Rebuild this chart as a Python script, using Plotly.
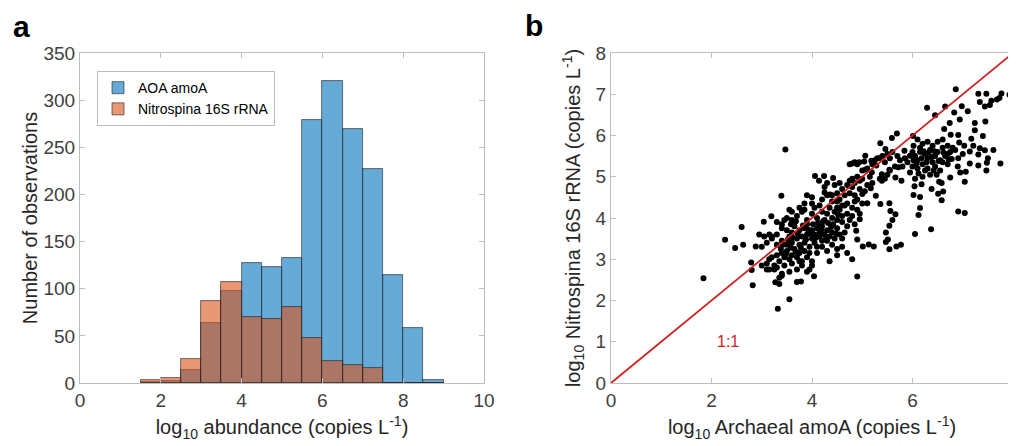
import plotly.graph_objects as go

# --- histogram (panel a) ---
bin_centres = [1.75, 2.25, 2.75, 3.25, 3.75, 4.25, 4.75, 5.25, 5.75, 6.25, 6.75, 7.25, 7.75, 8.25, 8.75]
aoa_counts = [1, 2, 14, 64, 98, 127, 123, 133, 279, 320, 269, 227, 115, 58, 3]
nitrospina_counts = [3, 5, 25, 87, 107, 70, 68, 81, 48, 23, 19, 16, 0, 0, 0]

# --- scatter (panel b): (log10 archaeal amoA, log10 Nitrospina 16S) ---
points = [
    (1.84, 2.54), (2.27, 3.47), (2.47, 3.27), (2.60, 3.78), (2.63, 3.35), (2.79, 2.92), (2.82, 2.37),
    (2.80, 2.74), (2.88, 3.31), (3.04, 3.91), (3.19, 4.04), (3.39, 4.54), (3.47, 5.66), (3.32, 1.80),
    (3.55, 2.03), (3.27, 2.44), (3.78, 2.46), (4.04, 2.59), (4.90, 2.58), (4.06, 5.02), (4.14, 4.90),
    (4.24, 5.02), (4.42, 4.97), (4.36, 4.57), (4.25, 4.62),
    (6.86, 7.12), (7.77, 7.02), (6.29, 6.67), (6.45, 6.49), (6.65, 6.70), (6.83, 6.56), (6.98, 6.71),
    (7.10, 6.59), (7.31, 7.01), (7.34, 6.81), (7.47, 7.01), (7.44, 6.70), (7.57, 6.84), (7.68, 6.87),
    (7.54, 6.74), (7.73, 6.91), (7.93, 6.99), (7.45, 6.34), (7.24, 6.30), (6.94, 6.39), (6.74, 6.30),
    (6.63, 6.16), (6.76, 6.02), (6.91, 6.01), (7.24, 6.13), (7.40, 5.99), (7.17, 5.92), (6.93, 5.83),
    (7.03, 5.75), (7.21, 5.75), (7.34, 5.69), (7.14, 5.61), (7.31, 5.54), (7.44, 5.64), (7.61, 5.65),
    (7.50, 5.45), (7.48, 5.34), (7.75, 5.32), (7.47, 5.15), (7.31, 5.27), (7.14, 5.32), (7.06, 5.12),
    (7.04, 4.88), (6.91, 5.45), (7.00, 5.55), (6.78, 5.43), (6.75, 4.98), (6.91, 4.16), (7.04, 4.12),
    (6.37, 3.73), (6.05, 3.61), (6.12, 4.07), (6.15, 4.24), (6.15, 4.51), (6.02, 4.56), (6.04, 4.77),
    (6.18, 4.82), (6.38, 4.70), (6.53, 4.88), (6.51, 4.59), (6.58, 4.43), (6.61, 4.64),
    (5.69, 6.05), (5.59, 5.94), (5.36, 5.81), (5.46, 5.67), (5.34, 5.45), (5.18, 5.39), (5.04, 5.37),
    (4.94, 5.35), (4.80, 5.32), (5.06, 5.17), (5.19, 5.11), (5.39, 5.06), (5.54, 5.17), (5.72, 5.23),
    (5.66, 4.98), (5.78, 4.90), (5.39, 4.90), (5.27, 4.54), (5.36, 4.34), (5.54, 4.36), (5.56, 4.17),
    (5.66, 4.09), (5.60, 3.95), (5.54, 3.81), (5.47, 3.65), (5.51, 3.48), (5.47, 3.42), (5.54, 3.24),
    (5.68, 3.31), (5.77, 3.35), (5.13, 3.36), (5.23, 3.31), (5.01, 3.31), (4.90, 3.48), (4.88, 3.69),
    (4.95, 3.97), (5.10, 4.36), (5.00, 4.58), (5.17, 4.72), (5.28, 5.27), (5.06, 5.51), (5.84, 5.63),
    (5.95, 5.51), (6.02, 5.75), (6.01, 5.99),
    (6.05, 5.50), (6.10, 5.40), (6.15, 5.60), (6.20, 5.30), (6.25, 5.55), (6.30, 5.45), (6.30, 5.20),
    (6.35, 5.65), (6.40, 5.35), (6.45, 5.50), (6.50, 5.60), (6.55, 5.40), (6.60, 5.70), (6.65, 5.50),
    (6.70, 5.30), (6.75, 5.60), (6.80, 5.70), (6.10, 5.20), (6.20, 5.00), (6.00, 5.25), (5.95, 5.10),
    (6.05, 4.95), (6.15, 5.70), (6.25, 5.15), (6.35, 5.05), (6.45, 5.25), (6.55, 5.15), (6.60, 5.35),
    (6.70, 5.55), (6.85, 5.65), (6.40, 5.75), (6.50, 5.85), (6.60, 5.90), (6.70, 5.75), (6.30, 5.85),
    (6.20, 5.80), (6.10, 5.90), (5.90, 5.35), (5.85, 5.45), (5.80, 5.25), (6.00, 5.60), (6.48, 5.05),
    (6.58, 4.85), (6.42, 5.15), (6.90, 5.25), (6.95, 5.10),
    (6.08, 5.32), (6.18, 5.45), (6.28, 5.35), (6.38, 5.48), (6.52, 5.38), (6.62, 5.58), (6.72, 5.42),
    (6.22, 5.62), (6.12, 5.08), (6.32, 5.58), (6.02, 5.40), (6.44, 5.62),
    (3.20, 3.05), (3.30, 3.10), (3.35, 2.95), (3.40, 3.15), (3.45, 3.05), (3.50, 3.20), (3.55, 3.00),
    (3.60, 3.10), (3.65, 3.25), (3.70, 3.05), (3.75, 3.15), (3.80, 2.95), (3.85, 3.20), (3.90, 3.05),
    (3.30, 2.80), (3.25, 2.75), (3.15, 2.75), (3.10, 2.90), (3.45, 2.85), (3.60, 2.90), (3.70, 2.75),
    (3.40, 2.65), (3.35, 2.55), (3.75, 2.95), (3.95, 3.15), (4.00, 2.95),
    (3.10, 3.40), (3.20, 3.50), (3.30, 3.35), (3.40, 3.45), (3.50, 3.35), (3.55, 3.55), (3.60, 3.40),
    (3.70, 3.50), (3.75, 3.35), (3.80, 3.55), (3.85, 3.40), (3.90, 3.60), (3.95, 3.30), (4.00, 3.50),
    (4.05, 3.40), (4.10, 3.30), (4.15, 3.55), (4.20, 3.45), (3.00, 3.30), (3.05, 3.55), (2.95, 3.60),
    (3.15, 3.60),
    (3.50, 3.70), (3.60, 3.65), (3.65, 3.80), (3.75, 3.70), (3.85, 3.75), (3.90, 3.85), (4.00, 3.70),
    (4.05, 3.60), (4.10, 3.75), (4.15, 3.65), (4.20, 3.80), (4.25, 3.60), (4.30, 3.70), (4.35, 3.55),
    (4.40, 3.65), (4.45, 3.50), (4.50, 3.75), (4.55, 3.60), (4.30, 3.45), (4.40, 3.35), (4.50, 3.25),
    (4.20, 3.30), (4.60, 3.50), (4.65, 3.65), (4.10, 3.15), (3.40, 3.75), (3.30, 3.60),
    (3.60, 3.95), (3.70, 4.05), (3.80, 4.15), (3.90, 3.95), (4.00, 4.10), (4.05, 4.25), (4.10, 4.00),
    (4.20, 4.15), (4.25, 3.95), (4.30, 4.10), (4.35, 4.25), (4.40, 4.00), (4.45, 4.15), (4.50, 3.95),
    (4.55, 4.20), (4.60, 4.05), (4.65, 4.30), (4.70, 4.10), (4.75, 3.95), (4.80, 4.25), (4.85, 4.40),
    (3.75, 4.25), (3.85, 4.20), (4.00, 4.35), (4.15, 4.30),
    (3.38, 3.25), (3.48, 3.12), (3.58, 3.28), (3.68, 3.18), (3.78, 3.28), (3.88, 3.48), (3.98, 3.62),
    (4.08, 3.52), (4.18, 3.70), (4.28, 3.52), (4.38, 3.78), (4.48, 3.62), (3.62, 3.52), (3.72, 3.62),
    (3.82, 3.82), (3.92, 3.72), (4.02, 3.85), (4.12, 3.88), (4.22, 3.92), (4.32, 3.88), (3.52, 3.48),
    (3.42, 3.35), (3.58, 3.85), (3.68, 3.92), (4.42, 3.85), (4.52, 4.08),
    (4.20, 4.45), (4.30, 4.55), (4.40, 4.40), (4.50, 4.60), (4.55, 4.45), (4.60, 4.70), (4.65, 4.55),
    (4.70, 4.35), (4.75, 4.60), (4.80, 4.75), (4.85, 4.55), (4.90, 4.45), (4.95, 4.70), (4.70, 4.80),
    (4.60, 4.30), (4.50, 4.25), (4.90, 4.20), (4.95, 4.10), (5.00, 4.35), (5.05, 4.65), (4.80, 4.05),
    (4.85, 3.85), (4.70, 3.80), (4.60, 3.90), (4.50, 4.40), (4.40, 4.55),
    (4.75, 4.90), (4.80, 4.95), (4.85, 4.85), (4.90, 5.00), (4.95, 4.90), (5.00, 5.15), (5.10, 5.20),
    (5.20, 5.30), (5.25, 5.40), (5.30, 5.45), (5.40, 5.50), (5.45, 5.35), (5.50, 5.55), (5.55, 5.45),
    (5.60, 5.60), (5.70, 5.50), (5.75, 5.40), (5.65, 5.25), (5.55, 5.15), (5.50, 5.05), (5.45, 4.95),
    (5.35, 4.95), (5.20, 4.85), (5.15, 5.00), (5.10, 4.80), (5.00, 4.95), (4.90, 5.30), (4.75, 5.30),
    (4.85, 5.35),
    (3.40, 3.85), (3.50, 4.00), (3.55, 4.20), (3.60, 4.15), (3.45, 3.95), (3.30, 3.90), (3.20, 3.55),
    (3.85, 4.35), (4.00, 4.50), (3.90, 4.55), (4.25, 4.75), (4.30, 4.85), (4.45, 4.80), (4.55, 4.85),
    (3.15, 3.00), (3.00, 2.85), (3.10, 2.75), (3.25, 2.85), (3.35, 2.40), (3.40, 2.60), (3.55, 2.70),
    (3.70, 2.45), (3.90, 2.70), (3.80, 2.85), (3.95, 2.75), (4.00, 2.85), (4.30, 3.20), (4.35, 2.95),
    (4.50, 3.10), (4.60, 3.30), (4.70, 3.15), (4.80, 3.00),
]
archaeal_amoa = [p[0] for p in points]
nitrospina_16s = [p[1] for p in points]

BLUE = "rgba(0,114,189,0.6)"
ORANGE = "rgba(217,83,25,0.6)"
FONT = "Liberation Sans, Arial, sans-serif"
TICK_FONT = dict(family=FONT, size=19, color="#404040")
TITLE_FONT = dict(family=FONT, size=20, color="#262626")

# the page body has an 8px margin, so the figure is 8px smaller than the window
W, H = 1008, 438

fig = go.Figure()

fig.add_trace(go.Bar(x=bin_centres, y=aoa_counts, width=0.5, name="AOA amoA",
                     marker=dict(color=BLUE, line=dict(color="rgba(30,30,30,0.75)", width=0.8)),
                     xaxis="x", yaxis="y"))
fig.add_trace(go.Bar(x=bin_centres, y=nitrospina_counts, width=0.5, name="Nitrospina 16S rRNA",
                     marker=dict(color=ORANGE, line=dict(color="rgba(30,30,30,0.75)", width=0.8)),
                     xaxis="x", yaxis="y"))

fig.add_trace(go.Scatter(x=archaeal_amoa, y=nitrospina_16s, mode="markers",
                         marker=dict(color="black", size=6), showlegend=False,
                         xaxis="x2", yaxis="y2"))
fig.add_trace(go.Scatter(x=[0, 8], y=[0, 8], mode="lines", line=dict(color="#cc2222", width=1.8),
                         showlegend=False, xaxis="x2", yaxis="y2", cliponaxis=False))

axis_common = dict(showgrid=False, zeroline=False, showline=True, linecolor="#bdbdbd", linewidth=1,
                   mirror="ticks", ticks="inside", ticklen=5, tickcolor="#bdbdbd",
                   tickfont=TICK_FONT, automargin=False)

fig.update_layout(
    width=W, height=H,
    margin=dict(l=0, r=0, t=0, b=0),
    paper_bgcolor="white", plot_bgcolor="white",
    barmode="overlay", bargap=0,
    xaxis=dict(domain=[72 / W, 476 / W], range=[0, 10], dtick=2,
               title=dict(text="log<sub>10</sub> abundance (copies L<sup>-1</sup>)", font=TITLE_FONT, standoff=10),
               **axis_common),
    yaxis=dict(domain=[0.1438, 0.8973], range=[0, 350], dtick=50,
               title=dict(text="Number of observations", font=TITLE_FONT, standoff=0),
               **axis_common),
    xaxis2=dict(domain=[603 / W, 1005 / W], range=[0, 8], dtick=2, anchor="y2",
                ticklabeloverflow="allow",
                title=dict(text="log<sub>10</sub> Archaeal amoA (copies L<sup>-1</sup>)", font=TITLE_FONT, standoff=10),
                **axis_common),
    yaxis2=dict(domain=[0.1438, 0.8973], range=[0, 8], dtick=1, anchor="x2",
                title=dict(text="log<sub>10</sub> Nitrospina 16S rRNA (copies L<sup>-1</sup>)", font=TITLE_FONT, standoff=9),
                **axis_common),
    legend=dict(x=89 / W, y=0.856, xanchor="left", yanchor="top", bgcolor="white",
                bordercolor="#bdbdbd", borderwidth=1, font=dict(family=FONT, size=14, color="black"),
                tracegroupgap=0, itemwidth=30),
    annotations=[
        dict(text="<b>a</b>", x=13 / W, y=0.958, xref="paper", yref="paper", showarrow=False,
             xanchor="center", yanchor="middle", font=dict(family=FONT, size=30, color="black")),
        dict(text="<b>b</b>", x=526 / W, y=0.961, xref="paper", yref="paper", showarrow=False,
             xanchor="center", yanchor="middle", font=dict(family=FONT, size=30, color="black")),
        dict(text="1:1", x=2.33, y=1.0, xref="x2", yref="y2", showarrow=False,
             font=dict(family=FONT, size=16, color="#cc2222")),
    ],
)

fig.write_html("out.html")
